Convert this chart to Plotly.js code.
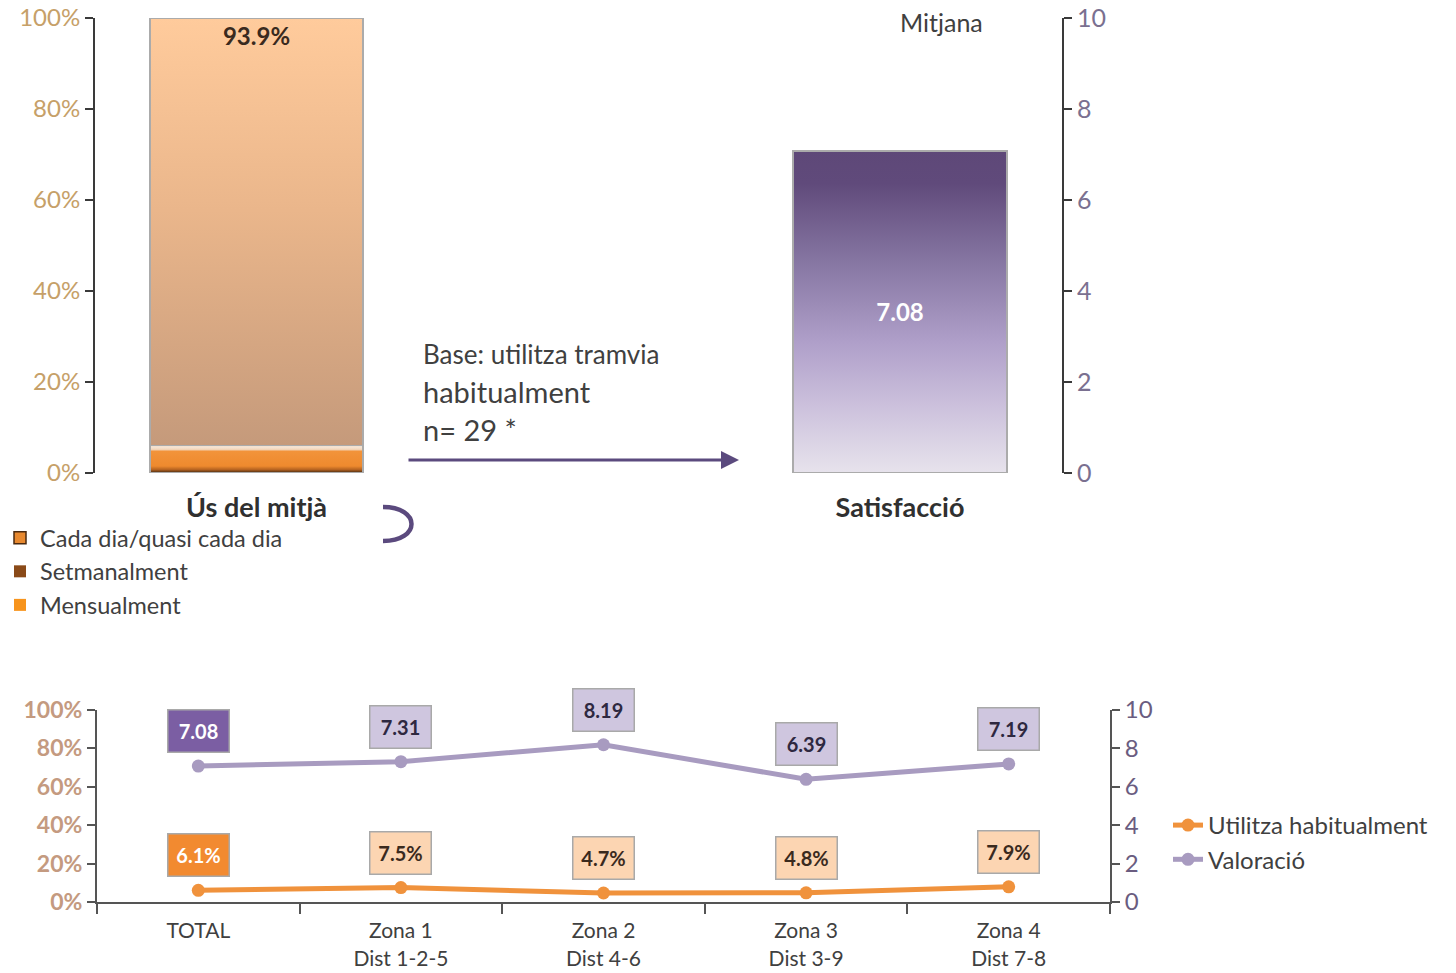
<!DOCTYPE html>
<html>
<head>
<meta charset="utf-8">
<script src="https://cdn.plot.ly/plotly-3.0.1.min.js"></script>
<style>
html,body{margin:0;padding:0;background:#fff;}
#chart{width:1456px;height:973px;}
</style>
</head>
<body>
<div id="chart"></div>
<script>
// ---- Data ----
const usCategory = ['Ús del mitjà'];
const freqNames = ['Cada dia/quasi cada dia', 'Setmanalment', 'Mensualment'];
const freqValues = [6.1, 0, 0];
const restName = 'Resta';
const restValue = [93.9];
const satisCategory = ['Satisfacció'];
const satisValue = [7.08];
const zones = ['TOTAL', 'Zona 1<br>Dist 1-2-5', 'Zona 2<br>Dist 4-6', 'Zona 3<br>Dist 3-9', 'Zona 4<br>Dist 7-8'];
const useHabitual = [6.1, 7.5, 4.7, 4.8, 7.9];
const valoracio = [7.08, 7.31, 8.19, 6.39, 7.19];
const seriesNames = ['Utilitza habitualment', 'Valoració'];
const pctTicks = [0, 20, 40, 60, 80, 100];
const scoreTicks = [0, 2, 4, 6, 8, 10];

// ---- Helpers ----
const W = 1456, H = 973;
const FONT = 'Lato, "Open Sans", sans-serif';
const fx = p => p / W;
const fy = p => 1 - p / H;

const freqColors = ['#E8892F', '#8A4A18', '#F7941D'];
const freqLines = ['#4A2A10', '#8A4A18', '#F7941D'];

const data = [];
freqNames.forEach((n, i) => {
  data.push({
    type: 'bar', x: usCategory, y: [freqValues[i]], name: n,
    xaxis: 'x', yaxis: 'y', width: 0.66, legend: 'legend', legendrank: i + 1,
    marker: {color: freqColors[i], line: {color: freqLines[i], width: i === 0 ? 1.5 : 0}},
    textposition: 'none', hoverinfo: 'skip'
  });
});
data.push({
  type: 'bar', x: usCategory, y: restValue, name: restName, showlegend: false,
  xaxis: 'x', yaxis: 'y', width: 0.66,
  marker: {color: '#F2BE94', line: {color: '#ABABAB', width: 1.5}},
  text: restValue.map(v => v.toFixed(1) + '%'), textposition: 'inside', insidetextanchor: 'end',
  textfont: {family: FONT, size: 24, color: '#3A2A1E', weight: 'bold'}, hoverinfo: 'skip'
});
data.push({
  type: 'bar', x: satisCategory, y: satisValue, name: 'Satisfacció', showlegend: false,
  xaxis: 'x2', yaxis: 'y2', width: 0.66,
  marker: {color: '#9A88B6', line: {color: '#ABABAB', width: 1.5}},
  text: satisValue.map(v => v.toFixed(2)), textposition: 'inside', insidetextanchor: 'middle',
  textfont: {family: FONT, size: 24, color: '#FFFFFF', weight: 'bold'}, hoverinfo: 'skip'
});
data.push({
  type: 'scatter', mode: 'lines+markers', x: zones, y: useHabitual, name: seriesNames[0],
  xaxis: 'x3', yaxis: 'y3', legend: 'legend2',
  line: {color: '#F0923C', width: 5}, marker: {color: '#F0923C', size: 13}
});
data.push({
  type: 'scatter', mode: 'lines+markers', x: zones, y: valoracio, name: seriesNames[1],
  xaxis: 'x3', yaxis: 'y4', legend: 'legend2',
  line: {color: '#A89BC0', width: 5}, marker: {color: '#A89BC0', size: 13}
});

// value label boxes
const annotations = [];
useHabitual.forEach((v, i) => {
  annotations.push({
    x: zones[i], y: v, xref: 'x3', yref: 'y3', yshift: 35, showarrow: false,
    text: v.toFixed(1) + '%', font: {family: FONT, size: 20, weight: 'bold', color: i === 0 ? '#FFFFFF' : '#3A2A1E'},
    bgcolor: i === 0 ? '#F28A30' : '#FCD5B2', bordercolor: '#A9A9A9', borderwidth: 1.5,
    width: 50, height: 31, borderpad: 5
  });
});
valoracio.forEach((v, i) => {
  annotations.push({
    x: zones[i], y: v, xref: 'x3', yref: 'y4', yshift: 35, showarrow: false,
    text: v.toFixed(2), font: {family: FONT, size: 20, weight: 'bold', color: i === 0 ? '#FFFFFF' : '#2E2840'},
    bgcolor: i === 0 ? '#7B5EA3' : '#CFC6DF', bordercolor: '#A9A9A9', borderwidth: 1.5,
    width: 50, height: 31, borderpad: 5
  });
});
// text notes
annotations.push({xref: 'paper', yref: 'paper', x: fx(421), y: fy(354), xanchor: 'left', yanchor: 'middle', showarrow: false,
  text: 'Base: utilitza tramvia', font: {family: FONT, size: 26, color: '#404040'}});
annotations.push({xref: 'paper', yref: 'paper', x: fx(421), y: fy(391), xanchor: 'left', yanchor: 'middle', showarrow: false,
  text: 'habitualment', font: {family: FONT, size: 29, color: '#404040'}});
annotations.push({xref: 'paper', yref: 'paper', x: fx(421), y: fy(429), xanchor: 'left', yanchor: 'middle', showarrow: false,
  text: 'n= 29 *', font: {family: FONT, size: 29, color: '#404040'}});
annotations.push({xref: 'paper', yref: 'paper', x: fx(941), y: fy(22), xanchor: 'center', yanchor: 'middle', showarrow: false,
  text: 'Mitjana', font: {family: FONT, size: 25, color: '#404040'}});
// arrow
annotations.push({xref: 'paper', yref: 'paper', x: fx(739), y: fy(460), ax: -332, ay: 0, showarrow: true,
  arrowhead: 2, arrowsize: 1.2, arrowwidth: 3, arrowcolor: '#5B4A7E', text: ''});

const shapes = [{
  type: 'path', xref: 'paper', yref: 'paper',
  path: `M ${fx(383)} ${fy(507)} C ${fx(421)} ${fy(507)} ${fx(421)} ${fy(541)} ${fx(383)} ${fy(541)}`,
  line: {color: '#5B4A7E', width: 4.5}
}];

const axLine = '#3A3A3A';
const layout = {
  width: W, height: H, autosize: false,
  margin: {l: 0, r: 0, t: 0, b: 0},
  paper_bgcolor: '#FFFFFF', plot_bgcolor: 'rgba(0,0,0,0)',
  font: {family: FONT, color: '#404040'},
  barmode: 'stack', bargap: 0,
  showlegend: true, hovermode: false,
  xaxis: {domain: [fx(95), fx(418)], anchor: 'y', type: 'category', showline: false, ticks: '', showgrid: false,
    tickfont: {family: FONT, size: 27, color: '#303030', weight: 'bold'}, ticklabelstandoff: 16, fixedrange: true},
  yaxis: {domain: [fy(473), fy(18)], anchor: 'x', range: [0, 100], tickvals: pctTicks, ticktext: pctTicks.map(v => v + '%'),
    showline: true, linecolor: axLine, linewidth: 2, ticks: 'outside', ticklen: 8, tickwidth: 2, tickcolor: axLine,
    showgrid: false, zeroline: false, tickfont: {family: FONT, size: 24, color: '#C6A068'}, fixedrange: true},
  xaxis2: {domain: [fx(738), fx(1062)], anchor: 'y2', type: 'category', showline: false, ticks: '', showgrid: false,
    tickfont: {family: FONT, size: 27, color: '#303030', weight: 'bold'}, ticklabelstandoff: 16, fixedrange: true},
  yaxis2: {domain: [fy(473), fy(18)], anchor: 'x2', side: 'right', range: [0, 10], tickvals: scoreTicks,
    showline: true, linecolor: axLine, linewidth: 2, ticks: 'outside', ticklen: 8, tickwidth: 2, tickcolor: axLine,
    showgrid: false, zeroline: false, tickfont: {family: FONT, size: 25, color: '#7A7090'}, fixedrange: true},
  xaxis3: {domain: [fx(97), fx(1110)], anchor: 'y3', type: 'category', range: [-0.5, 4.5],
    showline: true, linecolor: '#555555', linewidth: 2, ticks: 'outside', tickson: 'boundaries', ticklen: 10, tickwidth: 2,
    tickcolor: '#555555', showgrid: false, tickfont: {family: FONT, size: 21, color: '#404040'},
    ticklabelstandoff: 9, fixedrange: true},
  yaxis3: {domain: [fy(902), fy(710)], anchor: 'x3', range: [0, 100], tickvals: pctTicks, ticktext: pctTicks.map(v => v + '%'),
    showline: true, linecolor: '#555555', linewidth: 2, ticks: 'outside', ticklen: 8, tickwidth: 2, tickcolor: '#555555',
    showgrid: false, zeroline: false, tickfont: {family: FONT, size: 23, color: '#C49A80', weight: 'bold'}, fixedrange: true},
  yaxis4: {domain: [fy(902), fy(710)], anchor: 'x3', overlaying: 'y3', side: 'right', range: [0, 10], tickvals: scoreTicks,
    showline: true, linecolor: '#555555', linewidth: 2, ticks: 'outside', ticklen: 8, tickwidth: 2, tickcolor: '#555555',
    showgrid: false, zeroline: false, tickfont: {family: FONT, size: 24, color: '#6A5C80'}, fixedrange: true},
  legend: {x: 0, y: fy(516), xanchor: 'left', yanchor: 'top', traceorder: 'normal', bgcolor: 'rgba(0,0,0,0)',
    font: {family: FONT, size: 23.5, color: '#404040'}, itemwidth: 30, tracegroupgap: 0},
  legend2: {x: fx(1168), y: fy(803), xanchor: 'left', yanchor: 'top', traceorder: 'normal', bgcolor: 'rgba(0,0,0,0)',
    font: {family: FONT, size: 24, color: '#404040'}, itemwidth: 30},
  annotations: annotations,
  shapes: shapes
};

const gradients = {
  'Cada dia/quasi cada dia': [[0, '#D6B49A'], [0.05, '#F6E6D6'], [0.15, '#F2D6BC'], [0.22, '#F2933A'], [0.75, '#EE8A2E'], [0.88, '#B46220'], [1, '#3A2410']],
  'Resta': [[0, '#FFCB9C'], [0.45, '#EAB68B'], [1, '#C59A7B']],
  'Satisfacció': [[0, '#5E4878'], [0.1, '#604A7B'], [0.35, '#8777A3'], [0.6, '#B0A0CA'], [0.8, '#CDC2DD'], [1, '#E7E3EC']]
};

function injectGradients(gd) {
  const NS = 'http://www.w3.org/2000/svg';
  const svg = gd.querySelector('svg.main-svg');
  let defs = svg.querySelector('defs');
  if (!defs) { defs = document.createElementNS(NS, 'defs'); svg.insertBefore(defs, svg.firstChild); }
  const ids = {};
  Object.keys(gradients).forEach((name, k) => {
    const id = 'grad' + k;
    ids[name] = id;
    const lg = document.createElementNS(NS, 'linearGradient');
    lg.setAttribute('id', id);
    lg.setAttribute('x1', '0'); lg.setAttribute('y1', '0'); lg.setAttribute('x2', '0'); lg.setAttribute('y2', '1');
    gradients[name].forEach(([o, c]) => {
      const s = document.createElementNS(NS, 'stop');
      s.setAttribute('offset', o); s.setAttribute('stop-color', c);
      lg.appendChild(s);
    });
    defs.appendChild(lg);
  });
  gd.querySelectorAll('.barlayer .trace').forEach(g => {
    const d = g.__data__;
    const tr = d && d[0] && d[0].trace;
    if (!tr) return;
    const id = ids[tr.name];
    if (!id) return;
    g.querySelectorAll('path').forEach(p => {
      p.style.fill = 'url(#' + id + ')';
      p.style.stroke = '#ABABAB';
      p.style.strokeWidth = '1.5px';
    });
  });
}

const gd = document.getElementById('chart');
Plotly.newPlot(gd, data, layout, {staticPlot: true, displayModeBar: false}).then(() => injectGradients(gd));
</script>
</body>
</html>
